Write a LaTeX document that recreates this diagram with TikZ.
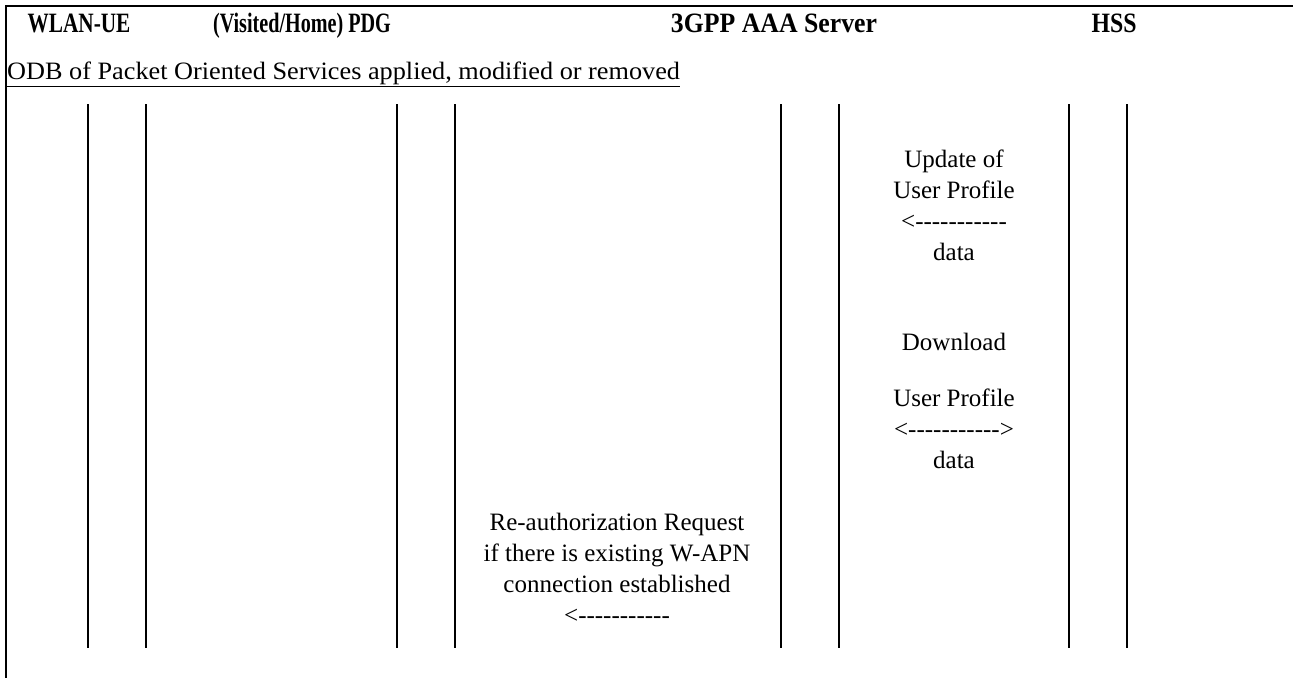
\documentclass[tikz,border=0pt]{standalone}
\usepackage{fontspec}
\setmainfont{Liberation Serif}
\usetikzlibrary{positioning}

\tikzset{
  actor/.style={font=\fontsize{28}{32}\selectfont\bfseries, inner sep=0pt, anchor=base},
  msg/.style={font=\fontsize{25}{31}\selectfont, align=center, inner sep=0pt},
  life/.style={line width=1.3pt},
}
% hyphens without TeX dash ligatures
\newcommand{\dashes}{-{}-{}-{}-{}-{}-{}-{}-{}-{}-{}-{}}

\begin{document}
\begin{tikzpicture}[x=1pt,y=-1pt]
      \useasboundingbox (0,0) rectangle (1293,678);
      \draw [line width=2pt] (1293,6) -- (6,6) -- (6,678);

      \node[actor] (ue) at (79,32) {\scalebox{.76}[1]{WLAN-UE}};
      \node[actor] (pdg) at (302,32) {\scalebox{.72}[1]{(Visited/Home) PDG}};
      \node[actor] (aaa) at (774,32) {\scalebox{.92}[1]{3GPP AAA Server}};
      \node[actor] (hss) at (1114,32) {\scalebox{.85}[1]{HSS}};

      \node[msg, anchor=base west] (odb) at (7,79) {\underline{\scalebox{1.05}[1]{ODB of Packet Oriented Services applied, modified or removed}}};

      \foreach \x [count=\i] in {88,146,397,455,781,839,1069,1127} {
        \coordinate (t\i) at (\x,104);
        \coordinate (b\i) at (\x,648);
        \draw [life] (t\i) -- (b\i);
      }

      \node[msg] (upd) at (954,205) {Update of\\User Profile\\<\dashes\\data};
      \node[msg] (dl) at (954,401) {Download\\[25pt]User Profile\\<\dashes>\\data};
      \node[msg] (reauth) at (617,568) {Re-authorization Request\\if there is existing W-APN\\connection established\\<\dashes};
\end{tikzpicture}
\end{document}
